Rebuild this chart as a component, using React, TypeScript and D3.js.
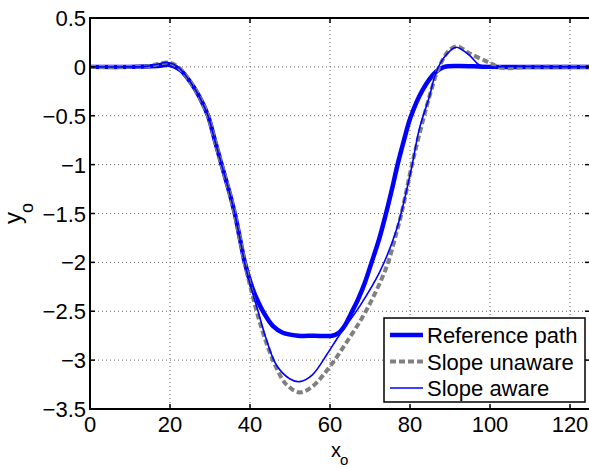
import React from 'react';
import * as d3 from 'd3';

// reference path (thick blue)
const refX = [0, 10, 17, 20, 22.5, 25, 27.4, 29.5, 31.2, 32.9, 34.9, 36.2, 37.4, 38.7, 40.4, 42, 43.5, 45.7, 48.2, 52, 56, 60.6, 62.2, 63.8, 65.3, 67, 68.7, 70.4, 72.3, 74, 75.5, 76.9, 78.5, 80.1, 83.1, 86.5, 88.6, 92, 100, 125];
const refY = [0, 0, 0.01, 0.02, -0.03, -0.15, -0.31, -0.5, -0.75, -1.0, -1.29, -1.5, -1.74, -2.0, -2.24, -2.4, -2.52, -2.65, -2.72, -2.75, -2.75, -2.75, -2.72, -2.64, -2.52, -2.38, -2.21, -2.0, -1.76, -1.5, -1.25, -1.0, -0.75, -0.52, -0.24, -0.05, 0, 0.01, 0, 0];

// slope unaware (gray dashed)
const unawareX = [0, 10, 14, 17, 19.5, 22, 25, 27.4, 29.5, 31.2, 32.9, 34.9, 36.2, 37.4, 38.7, 40.4, 42.2, 44.5, 46.6, 49.1, 52.4, 55.6, 59.9, 64.1, 69.1, 74.1, 76.6, 78.1, 80.6, 83.1, 85.3, 87.3, 89.8, 91.8, 94.8, 100, 103, 110, 125];
const unawareY = [0, 0, 0.005, 0.03, 0.045, 0.0, -0.15, -0.31, -0.5, -0.75, -1.0, -1.29, -1.5, -1.74, -2.01, -2.3, -2.58, -2.87, -3.08, -3.25, -3.33, -3.27, -3.07, -2.82, -2.49, -2.05, -1.7, -1.46, -0.98, -0.57, -0.24, 0, 0.17, 0.21, 0.14, 0.04, -0.01, 0, 0];

// slope aware (thin blue)
const awareX = [0, 10, 14, 17, 19.5, 22, 25, 27.4, 29.5, 31.2, 32.9, 34.9, 36.2, 37.4, 38.7, 40.2, 41.8, 44.1, 46.6, 49.9, 52.4, 55.6, 59.1, 62.4, 67.4, 72.4, 76.6, 80.3, 82.3, 84.8, 86.5, 88.6, 91.5, 94.8, 97.3, 100, 105, 125];
const awareY = [0, 0, 0.005, 0.03, 0.045, 0.0, -0.15, -0.31, -0.5, -0.75, -1.0, -1.29, -1.5, -1.74, -2.01, -2.25, -2.47, -2.79, -3.05, -3.19, -3.22, -3.15, -2.95, -2.74, -2.45, -2.1, -1.67, -1.05, -0.64, -0.31, -0.06, 0.1, 0.2, 0.12, 0.02, 0, 0.005, 0];

const xTicks = [0, 20, 40, 60, 80, 100, 120];
const yTicks = [0.5, 0, -0.5, -1, -1.5, -2, -2.5, -3, -3.5];
const legendLabels = ['Reference path', 'Slope unaware', 'Slope aware'];

const W = 589;
const H = 468;
const left = 90;
const right = 590;
const top = 18;
const bottom = 409;
const font = '"Liberation Sans", Arial, Helvetica, sans-serif';

const fmt = (v: number) => (v < 0 ? '\u2212' + String(-v) : String(v));

export default function App() {
  const x = d3.scaleLinear().domain([0, 125]).range([left, right]);
  const y = d3.scaleLinear().domain([-3.5, 0.5]).range([bottom, top]);

  const line = d3
    .line<[number, number]>()
    .x((d) => x(d[0]))
    .y((d) => y(d[1]))
    .curve(d3.curveCatmullRom.alpha(0.5));

  const zip = (xs: number[], ys: number[]) => xs.map((v, i) => [v, ys[i]] as [number, number]);

  const legend = [
    { label: legendLabels[0], stroke: '#0000ff', width: 4.5, dash: undefined },
    { label: legendLabels[1], stroke: '#808080', width: 4, dash: '6,3' },
    { label: legendLabels[2], stroke: '#0000ff', width: 1.6, dash: undefined },
  ];

  return (
    <svg width={W} height={H} style={{ position: 'absolute', left: 0, top: 0, background: '#fff' }}>
      <rect x={0} y={0} width={W} height={H} fill="#fff" />
      {/* grid */}
      <g stroke="#666" strokeWidth={1} strokeDasharray="1,3">
        {xTicks.filter((t) => t > 0).map((t) => (
          <line key={'gx' + t} x1={x(t)} x2={x(t)} y1={top} y2={bottom} />
        ))}
        {yTicks.filter((t) => t > -3.5 && t < 0.5).map((t) => (
          <line key={'gy' + t} x1={left} x2={right} y1={y(t)} y2={y(t)} />
        ))}
      </g>

      {/* curves */}
      <path d={line(zip(refX, refY)) || ''} fill="none" stroke="#0000ff" strokeWidth={4.5} strokeLinejoin="round" />
      <path d={line(zip(unawareX, unawareY)) || ''} fill="none" stroke="#808080" strokeWidth={4} strokeDasharray="6,3" />
      <path d={line(zip(awareX, awareY)) || ''} fill="none" stroke="#0000ff" strokeWidth={1.6} />

      {/* axes box */}
      <rect x={left} y={top} width={right - left} height={bottom - top} fill="none" stroke="#000" strokeWidth={2} />
      <g stroke="#000" strokeWidth={1.5}>
        {xTicks.map((t) => (
          <g key={'tx' + t}>
            <line x1={x(t)} x2={x(t)} y1={bottom} y2={bottom - 5} />
            <line x1={x(t)} x2={x(t)} y1={top} y2={top + 5} />
          </g>
        ))}
        {yTicks.map((t) => (
          <g key={'ty' + t}>
            <line x1={left} x2={left + 5} y1={y(t)} y2={y(t)} />
            <line x1={right} x2={right - 5} y1={y(t)} y2={y(t)} />
          </g>
        ))}
      </g>

      {/* tick labels */}
      <g fontFamily={font} fontSize={22} fill="#000">
        {xTicks.map((t) => (
          <text key={'lx' + t} x={x(t)} y={432} textAnchor="middle">
            {fmt(t)}
          </text>
        ))}
        {yTicks.map((t) => (
          <text key={'ly' + t} x={left - 4} y={y(t) + 8} textAnchor="end">
            {fmt(t)}
          </text>
        ))}
      </g>

      {/* axis labels */}
      <text x={331} y={457} fontFamily={font} fontSize={20}>
        x<tspan fontSize={15} dy={8} dx={-1}>o</tspan>
      </text>
      <text transform="translate(21,224) rotate(-90)" fontFamily={font} fontSize={24}>
        y<tspan fontSize={18} dy={12} dx={-1}>o</tspan>
      </text>

      {/* legend */}
      <g>
        <rect x={384} y={318} width={201} height={84} fill="#fff" stroke="#000" strokeWidth={1.5} />
        {legend.map((l, i) => {
          const cy = 335 + i * 26.5;
          return (
            <g key={l.label}>
              <line x1={390} x2={423} y1={cy} y2={cy} stroke={l.stroke} strokeWidth={l.width} strokeDasharray={l.dash} />
              <text x={427} y={cy + 8} fontFamily={font} fontSize={22} fill="#000">
                {l.label}
              </text>
            </g>
          );
        })}
      </g>
    </svg>
  );
}
